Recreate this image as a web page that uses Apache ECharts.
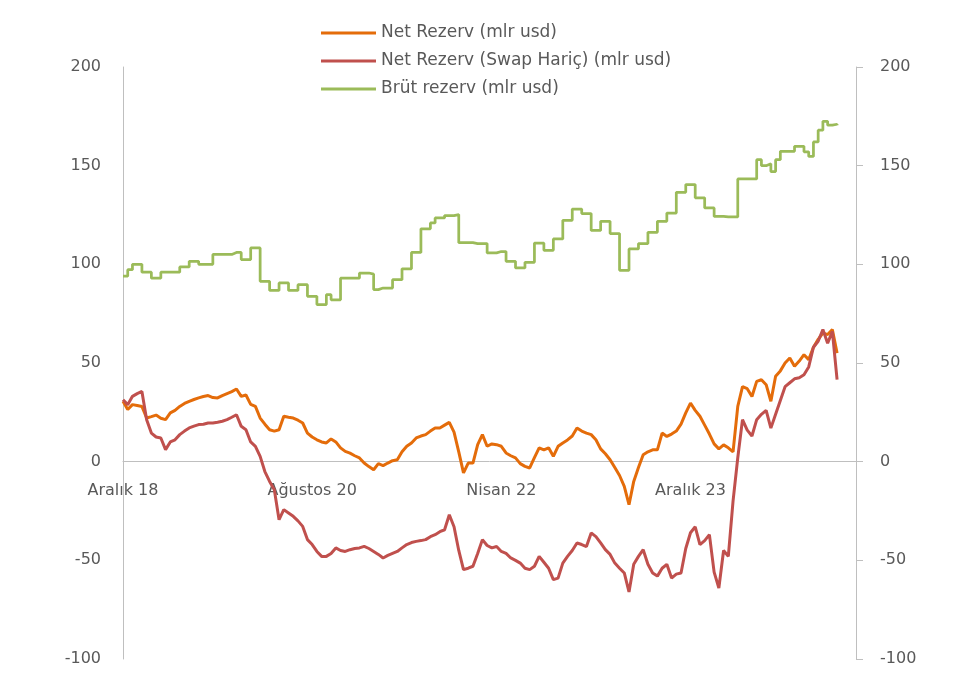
<!DOCTYPE html>
<html>
<head>
<meta charset="utf-8">
<script src="https://cdn.jsdelivr.net/npm/echarts@6/dist/echarts.min.js"></script>
<style>
  html, body { margin: 0; padding: 0; background: #fff; }
  #chart { width: 956px; height: 691px; }
</style>
</head>
<body>
<div id="chart"></div>
<script>
// semi-monthly points, starting Dec 2018
var startYear = 2018, startMonth = 12;
var totalSlots = 156; // axis runs a little past the last value
var monthNames = ['Ocak', 'Şubat', 'Mart', 'Nisan', 'Mayıs', 'Haziran', 'Temmuz',
  'Ağustos', 'Eylül', 'Ekim', 'Kasım', 'Aralık'];

var seriesNames = ['Net Rezerv (mlr usd)', 'Net Rezerv (Swap Hariç) (mlr usd)', 'Brüt rezerv (mlr usd)'];

var yMin = -100, yMax = 200, yStep = 50;

var netRezerv = [
  30.6, 26.4, 28.9, 28.5, 28, 22.1, 22.8, 23.6, 22, 21.3,
  24.7, 26, 28, 29.5, 30.6, 31.5, 32.3, 33, 33.5, 32.5,
  32.3, 33.5, 34.5, 35.5, 36.8, 33.1, 33.8, 29, 28, 22.1,
  19, 16.2, 15.5, 16.2, 23, 22.5, 22.1, 21, 19.6, 14.5,
  12.5, 11.1, 10, 9.5, 11.5, 10, 7, 5.2, 4.3, 3,
  1.9, -0.7, -2.5, -4.1, -1, -2, -0.7, 0.5, 1, 5,
  7.8, 9.5, 12, 13, 13.7, 15.5, 17.1, 17.1, 18.5, 19.9,
  15, 5, -5.7, -0.7, -0.7, 8.6, 13.7, 7.8, 9, 8.6,
  7.8, 4.4, 3, 1.9, -1, -2.4, -3.2, 2, 7, 6,
  7, 2.7, 7.8, 9.5, 11, 13, 17.1, 15.5, 14.5, 13.7,
  11.1, 6.5, 4, 1, -3, -7, -12.5, -21.8, -10, -3,
  3.5, 5, 6, 6, 14.5, 12.8, 14, 15.5, 19, 24.7,
  29.7, 26, 23, 18.5, 14, 9, 6.5, 8.5, 7, 5,
  28, 38, 37, 33, 40.7, 41.5, 39, 30.6, 43.3, 46,
  50, 52.5, 48.3, 51, 54.2, 51.7, 58, 62, 65.2, 64.4,
  66.9, 55
];

var netSwapHaric = [
  31.4, 28.9, 33.1, 34.5, 35.6, 21.3, 14.5, 12.5, 12, 6.1,
  10, 11.1, 13.7, 15.5, 17.1, 18, 18.8, 19, 19.6, 19.6,
  20, 20.5, 21.3, 22.5, 23.8, 17.9, 16.2, 10, 7.8, 2.7,
  -5, -10, -14.2, -29.4, -24.3, -26, -27.7, -30, -32.8, -39.5,
  -42, -45.5, -48, -48, -46.5, -43.7, -45, -45.5, -44.6, -44,
  -43.7, -42.9, -44, -45.5, -47, -48.8, -47.5, -46.5, -45.5, -43.7,
  -42, -41, -40.4, -40, -39.5, -38, -37, -35.5, -34.5, -26.9,
  -33, -45, -54.7, -54, -53, -46.5, -39.5, -42.5, -43.7, -43,
  -45.5, -46.5, -48.8, -50, -51.4, -54, -54.7, -53, -48, -51,
  -54, -59.8, -59, -51.4, -48, -45, -41.2, -42, -43, -36.1,
  -38, -41.2, -44.6, -47, -51.4, -54, -56.4, -66, -52, -48,
  -44.6, -52, -56.4, -58, -54, -52, -59, -57, -56.4, -44,
  -36, -33, -42, -40, -37, -56, -64, -45, -48, -20,
  2, 21.3, 16, 13, 21.3, 24, 26, 17, 24, 31,
  38, 40, 42, 42.5, 44, 48, 58, 61, 67, 60,
  66, 41.6
];

var brutRezerv = [
  94, 97.3, 100, 100, 96, 96, 93, 93, 96, 96,
  96, 96, 98.7, 98.7, 101.5, 101.5, 100, 100, 100, 105,
  105, 105, 105, 106, 106, 102.4, 102.4, 108.3, 108.3, 91.4,
  91.4, 86.8, 86.8, 90.6, 90.6, 86.8, 86.8, 89.7, 89.7, 83.8,
  83.8, 79.6, 79.6, 84.6, 82, 82, 93, 93, 93, 93,
  95.6, 95.6, 95, 87.2, 88, 88, 88, 92.2, 92.2, 97.7,
  97.7, 106, 106, 118, 118, 121, 123.5, 123.5, 124.7, 124.7,
  125.2, 111, 111, 111, 110.5, 110.5, 110.5, 105.8, 105.8, 106.5,
  106.5, 101.5, 101.5, 98.2, 98.2, 101, 101, 110.8, 110.8, 107.1,
  107.1, 112.9, 112.9, 122.3, 122.3, 128, 128, 125.7, 125.7, 117.2,
  117.2, 121.8, 121.8, 115.6, 115.6, 97, 97, 107.8, 107.8, 110.5,
  110.5, 116.2, 116.2, 121.8, 121.8, 126, 126, 136.5, 136.5, 140.4,
  140.4, 133.7, 133.7, 128.6, 128.6, 124.3, 124.3, 124, 124, 124,
  143.3, 143.3, 143.3, 143.3, 153, 150, 151, 147, 153, 157.3,
  157.3, 157.3, 159.8, 159.8, 157, 154.7, 162, 168, 172.5, 170.5,
  171, 170.5
];

var colors = ['#E46C0A', '#C0504D', '#9BBB59'];

// category list: two slots per month
var categories = [];
for (var i = 0; i < totalSlots; i++) {
  var m = startMonth - 1 + Math.floor(i / 2);
  var y = startYear + Math.floor(m / 12);
  var mm = (m % 12) + 1;
  categories.push(y + '-' + (mm < 10 ? '0' + mm : mm) + (i % 2 === 0 ? '-01' : '-16'));
}

function monthLabel(value) {
  var parts = value.split('-');
  return monthNames[parseInt(parts[1], 10) - 1] + ' ' + parts[0].substring(2);
}

var axisGrey = '#BFBFBF';
var textGrey = '#595959';
var fontFamily = 'DejaVu Sans';

var gridTop = 67, gridBottom = 32, chartHeight = 691;
// x axis sits on the zero line: shift it up from the grid bottom
var plotHeight = chartHeight - gridTop - gridBottom;
var zeroOffset = -plotHeight * (0 - yMin) / (yMax - yMin);

var chart = echarts.init(document.getElementById('chart'), null, { renderer: 'canvas' });

var option = {
  animation: false,
  backgroundColor: '#ffffff',
  color: colors,
  legend: {
    orient: 'vertical',
    left: 316,
    top: 18,
    itemWidth: 55,
    itemHeight: 3,
    itemGap: 8,
    icon: 'rect',
    textStyle: { color: textGrey, fontSize: 17, fontFamily: fontFamily, lineHeight: 20 },
    data: seriesNames
  },
  grid: { left: 123, right: 100, top: gridTop, bottom: gridBottom, containLabel: false },
  xAxis: {
    type: 'category',
    boundaryGap: false,
    data: categories,
    offset: zeroOffset,
    axisLine: { onZero: false, lineStyle: { color: axisGrey, width: 1 } },
    axisTick: { show: false },
    splitLine: { show: false },
    axisLabel: {
      interval: 39,
      margin: 21,
      color: textGrey,
      fontSize: 16,
      fontFamily: fontFamily,
      formatter: monthLabel
    }
  },
  yAxis: [{
    type: 'value',
    position: 'left',
    min: yMin,
    max: yMax,
    interval: yStep,
    axisLine: { show: true, lineStyle: { color: axisGrey, width: 1 } },
    axisTick: { show: false },
    splitLine: { show: false },
    axisLabel: { margin: 22, color: textGrey, fontSize: 16, fontFamily: fontFamily }
  }, {
    type: 'value',
    position: 'right',
    min: yMin,
    max: yMax,
    interval: yStep,
    axisLine: { show: true, lineStyle: { color: axisGrey, width: 1 } },
    axisTick: { show: true, inside: false, length: 7, lineStyle: { color: axisGrey } },
    splitLine: { show: false },
    axisLabel: { margin: 24, color: textGrey, fontSize: 16, fontFamily: fontFamily }
  }],
  series: [{
    name: seriesNames[0],
    type: 'line',
    data: netRezerv,
    symbol: 'none',
    lineStyle: { width: 3, color: colors[0] }
  }, {
    name: seriesNames[1],
    type: 'line',
    data: netSwapHaric,
    symbol: 'none',
    lineStyle: { width: 3, color: colors[1] }
  }, {
    name: seriesNames[2],
    type: 'line',
    step: 'end',
    data: brutRezerv,
    symbol: 'none',
    lineStyle: { width: 2.75, color: colors[2] }
  }]
};

chart.setOption(option);
</script>
</body>
</html>
